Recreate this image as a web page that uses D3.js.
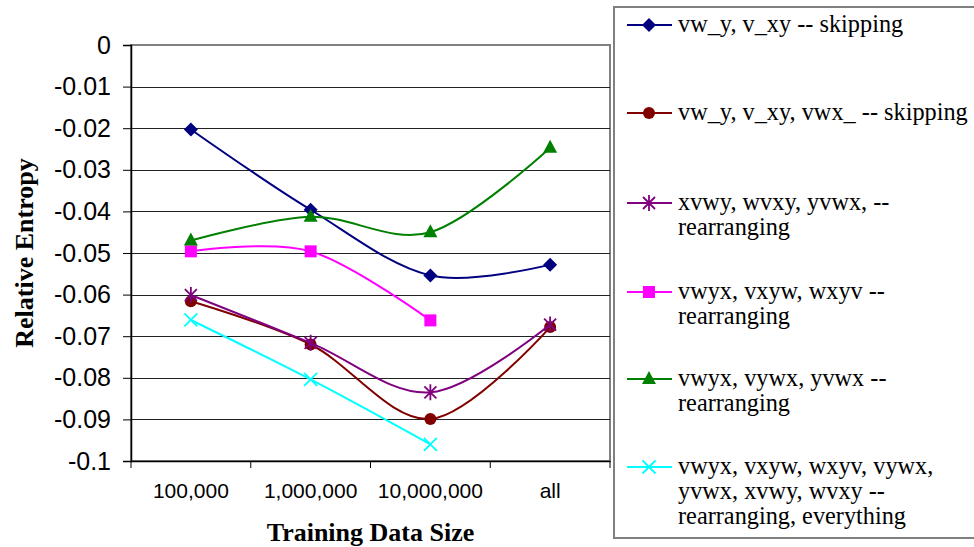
<!DOCTYPE html>
<html>
<head>
<meta charset="utf-8">
<script src="https://cdn.jsdelivr.net/npm/d3@7"></script>
<style>
  body { margin: 0; background: #fff; }
</style>
</head>
<body>
<div id="chart"></div>
<script>
// Chart data
const categories = ['100,000', '1,000,000', '10,000,000', 'all'];
const yTicks = [0, -0.01, -0.02, -0.03, -0.04, -0.05, -0.06, -0.07, -0.08, -0.09, -0.1];

const skipping2 = [-0.0203, -0.0396, -0.0554, -0.0528];
const skipping3 = [-0.0616, -0.0720, -0.0899, -0.0678];
const rearrXvwy = [-0.0601, -0.0716, -0.0835, -0.0672];
const rearrVxyw = [-0.0496, -0.0496, -0.0662, null];
const rearrVywx = [-0.0470, -0.0413, -0.0450, -0.0247];
const everything = [-0.0661, -0.0804, -0.0960, null];

const seriesNames = [
    ['vw_y, v_xy -- skipping'],
    ['vw_y, v_xy, vwx_ -- skipping'],
    ['xvwy, wvxy, yvwx, --', 'rearranging'],
    ['vwyx, vxyw, wxyv --', 'rearranging'],
    ['vwyx, vywx, yvwx --', 'rearranging'],
    ['vwyx, vxyw, wxyv, vywx,', 'yvwx, xvwy, wvxy --', 'rearranging, everything']
];
const seriesValues = [skipping2, skipping3, rearrXvwy, rearrVxyw, rearrVywx, everything];
const seriesColors = ['#000080', '#800000', '#800080', '#ff00ff', '#008000', '#00ffff'];
const seriesMarkers = ['diamond', 'circle', 'asterisk', 'square', 'triangle', 'cross'];

const width = 974;
const height = 547;
const plot = { left: 131, right: 610, top: 45, bottom: 461 };
const sansFont = "'Liberation Sans', Arial, sans-serif";
const serifFont = "'Liberation Serif', 'Times New Roman', serif";

const svg = d3.select('#chart')
    .append('svg')
    .attr('width', width)
    .attr('height', height);

// Scales
const x = d3.scaleBand()
    .domain(categories)
    .range([plot.left, plot.right]);

const y = d3.scaleLinear()
    .domain([-0.1, 0])
    .range([plot.bottom, plot.top]);

// Plot area frame
svg.append('rect')
    .attr('x', plot.left)
    .attr('y', plot.top)
    .attr('width', plot.right - plot.left)
    .attr('height', plot.bottom - plot.top)
    .attr('fill', '#fff')
    .attr('stroke', '#808080')
    .attr('stroke-width', 2);

// Gridlines
svg.append('g')
    .selectAll('line')
    .data(yTicks.filter(d => d !== 0 && d !== -0.1))
    .enter()
    .append('line')
    .attr('x1', plot.left)
    .attr('x2', plot.right)
    .attr('y1', d => Math.round(y(d)) + 0.5)
    .attr('y2', d => Math.round(y(d)) + 0.5)
    .attr('stroke', '#222')
    .attr('stroke-width', 1);

// Y axis
const yAxis = svg.append('g')
    .attr('transform', `translate(${plot.left},0)`)
    .call(d3.axisLeft(y)
        .tickValues(yTicks)
        .tickSize(8)
        .tickPadding(12)
        .tickFormat(d => String(+d.toFixed(2))));
yAxis.select('.domain').attr('stroke', '#000').attr('stroke-width', 1.5);
yAxis.selectAll('.tick line').attr('stroke', '#000');
yAxis.selectAll('text')
    .attr('font-family', sansFont)
    .attr('font-size', '25px')
    .attr('fill', '#000');

// X axis
const xAxis = svg.append('g')
    .attr('transform', `translate(0,${plot.bottom})`)
    .call(d3.axisBottom(x).tickSize(0).tickPadding(22));
xAxis.select('.domain').attr('stroke', '#000').attr('stroke-width', 1.5);
xAxis.selectAll('text')
    .attr('font-family', sansFont)
    .attr('font-size', '21px')
    .attr('fill', '#000');

// Category boundary tick marks
svg.append('g')
    .selectAll('line')
    .data(categories.concat(['end']))
    .enter()
    .append('line')
    .attr('x1', (d, i) => plot.left + i * x.step())
    .attr('x2', (d, i) => plot.left + i * x.step())
    .attr('y1', plot.bottom)
    .attr('y2', plot.bottom + 7)
    .attr('stroke', '#000');

// Axis titles
svg.append('text')
    .attr('transform', `translate(33,${(plot.top + plot.bottom) / 2}) rotate(-90)`)
    .attr('text-anchor', 'middle')
    .attr('font-family', serifFont)
    .attr('font-weight', 'bold')
    .attr('font-size', '26px')
    .text('Relative Entropy');

svg.append('text')
    .attr('x', (plot.left + plot.right) / 2)
    .attr('y', 541)
    .attr('text-anchor', 'middle')
    .attr('font-family', serifFont)
    .attr('font-weight', 'bold')
    .attr('font-size', '26px')
    .text('Training Data Size');

// Marker drawing
function drawMarker(g, type, color) {
    if (type === 'diamond') {
        g.append('path').attr('d', 'M0,-7L7,0L0,7L-7,0Z').attr('fill', color);
    } else if (type === 'circle') {
        g.append('circle').attr('r', 6).attr('fill', color);
    } else if (type === 'square') {
        g.append('rect').attr('x', -6).attr('y', -6).attr('width', 12).attr('height', 12).attr('fill', color);
    } else if (type === 'triangle') {
        g.append('path').attr('d', 'M0,-8L7,5L-7,5Z').attr('fill', color);
    } else if (type === 'asterisk') {
        g.append('path')
            .attr('d', 'M-6,-6L6,6M-6,6L6,-6M0,-8L0,8')
            .attr('stroke', color).attr('stroke-width', 1.8).attr('fill', 'none');
    } else if (type === 'cross') {
        g.append('path')
            .attr('d', 'M-6.5,-6.5L6.5,6.5M-6.5,6.5L6.5,-6.5')
            .attr('stroke', color).attr('stroke-width', 1.8).attr('fill', 'none');
    }
}

const line = d3.line()
    .defined(d => d.v !== null)
    .x(d => x(d.c) + x.bandwidth() / 2)
    .y(d => y(d.v))
    .curve(d3.curveCardinal.tension(0));

seriesValues.forEach((vals, si) => {
    const pts = vals.map((v, i) => ({ c: categories[i], v: v })).filter(d => d.v !== null);
    svg.append('path')
        .datum(pts)
        .attr('d', line)
        .attr('fill', 'none')
        .attr('stroke', seriesColors[si])
        .attr('stroke-width', 2);
    pts.forEach(d => {
        const g = svg.append('g')
            .attr('transform', `translate(${x(d.c) + x.bandwidth() / 2},${y(d.v)})`);
        drawMarker(g, seriesMarkers[si], seriesColors[si]);
    });
});

// Legend
const legend = svg.append('g');
legend.append('rect')
    .attr('x', 614)
    .attr('y', 7)
    .attr('width', 370)
    .attr('height', 531)
    .attr('fill', '#fff')
    .attr('stroke', '#808080')
    .attr('stroke-width', 2);

const legendY = [25, 113, 203, 292, 379, 467];
seriesNames.forEach((lines, i) => {
    const row = legend.append('g').attr('transform', `translate(0,${legendY[i]})`);
    row.append('line')
        .attr('x1', 627).attr('x2', 672)
        .attr('y1', 0).attr('y2', 0)
        .attr('stroke', seriesColors[i])
        .attr('stroke-width', 2);
    drawMarker(row.append('g').attr('transform', 'translate(649,0)'), seriesMarkers[i], seriesColors[i]);
    const t = row.append('text')
        .attr('font-family', serifFont)
        .attr('font-size', '24.3px')
        .attr('fill', '#000');
    lines.forEach((s, k) => {
        t.append('tspan')
            .attr('x', 678)
            .attr('y', 7 + k * 25)
            .text(s);
    });
});
</script>
</body>
</html>
